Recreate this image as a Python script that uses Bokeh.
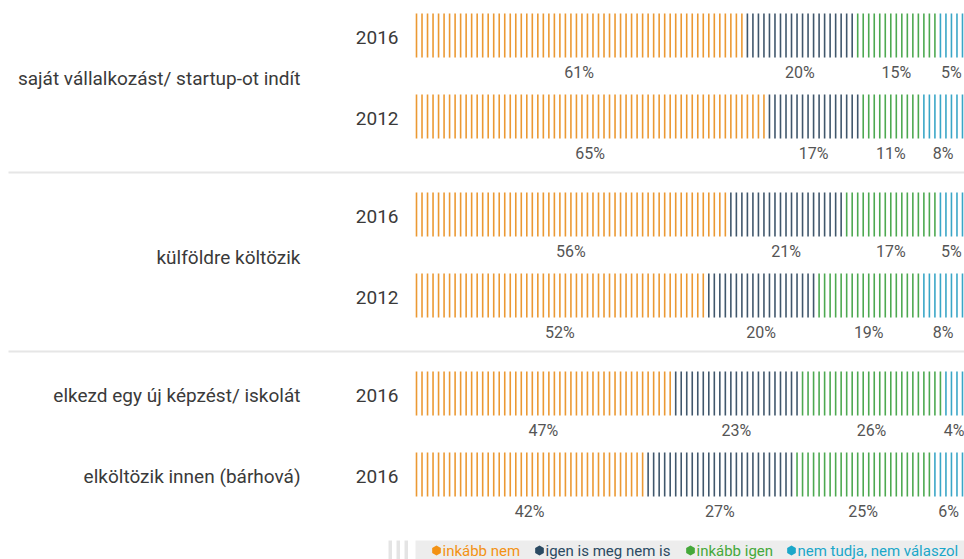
from bokeh.plotting import figure
from bokeh.models import Range1d, ColumnDataSource
from bokeh.embed import file_html
from bokeh.resources import INLINE
from bokeh.core.properties import value

# ---------------- data ----------------
categories = ["inkább nem", "igen is meg nem is", "inkább igen", "nem tudja, nem válaszol"]
row_items = ["saját vállalkozást/ startup-ot indít", "saját vállalkozást/ startup-ot indít",
             "külföldre költözik", "külföldre költözik",
             "elkezd egy új képzést/ iskolát", "elköltözik innen (bárhová)"]
row_years = ["2016", "2012", "2016", "2012", "2016", "2016"]
inkabb_nem = [61, 65, 56, 52, 47, 42]
igen_is_meg_nem_is = [20, 17, 21, 20, 23, 27]
inkabb_igen = [15, 11, 17, 19, 26, 25]
nem_tudja = [5, 8, 5, 8, 4, 6]
sections = [0, 0, 1, 1, 2, 2]

# ---------------- style ----------------
stripe_colors = ["#e8870f", "#1f3a52", "#2e9a32", "#1796bd"]
legend_colors = ["#f39214", "#2b4a62", "#45a83a", "#1ba7c9"]
FONT = "Roboto"
TEXT = "#3a3a3a"

W, H = 964, 559
X0PX, STEP = 416.0, 5.515          # px of first stripe, px per stripe


def px2x(px):
    return (px - X0PX) / STEP


p = figure(width=W, height=H, output_backend="svg", toolbar_location=None,
           x_range=Range1d(px2x(0), px2x(W)), y_range=Range1d(H, 0),
           min_border=0, outline_line_color=None)
p.axis.visible = False
p.grid.visible = False
p.background_fill_color = "white"

series = [inkabb_nem, igen_is_meg_nem_is, inkabb_igen, nem_tudja]
n_rows = len(row_years)
row_y = [35 + 81 * i + 17 * sections[i] for i in range(n_rows)]
HALF = 22

sx, sy0, sy1, sc = [], [], [], []
lx, ly, lt = [], [], []
for i in range(n_rows):
    vals = [s[i] for s in series]
    tot = sum(vals)
    raw = [v / tot * 100 for v in vals]
    cnt = [int(r) for r in raw]
    rem = sorted(range(4), key=lambda k: raw[k] - cnt[k], reverse=True)
    for k in rem[:100 - sum(cnt)]:
        cnt[k] += 1
    start = 0
    for k in range(4):
        for j in range(start, start + cnt[k]):
            sx.append(j)
            sy0.append(row_y[i] - HALF)
            sy1.append(row_y[i] + HALF)
            sc.append(stripe_colors[k])
        lx.append(start + (cnt[k] - 1) / 2)
        ly.append(row_y[i] + 37)
        lt.append(f"{vals[k]}%")
        start += cnt[k]

p.segment(x0="x", x1="x", y0="y0", y1="y1", color="c", line_width=1.6,
          line_alpha=0.85,
          source=ColumnDataSource(dict(x=sx, y0=sy0, y1=sy1, c=sc)))

p.text(x=lx, y=ly, text=lt, text_font=value(FONT), text_font_size="16px",
       text_color="#555555", text_align="center", text_baseline="middle")

# year labels
p.text(x=[px2x(398)] * n_rows, y=[y + 2 for y in row_y], text=row_years,
       text_font=value(FONT), text_font_size="19px", text_color=TEXT,
       text_align="right", text_baseline="middle")

# item labels
seen = []
for it in row_items:
    if it not in seen:
        seen.append(it)
iy = [sum(row_y[i] for i in range(n_rows) if row_items[i] == it) /
      row_items.count(it) + 2 for it in seen]
p.text(x=[px2x(300)] * len(seen), y=iy, text=seen, text_font=value(FONT),
       text_font_size="19px", text_color=TEXT, text_align="right",
       text_baseline="middle")

# separators
for i in range(1, n_rows):
    if sections[i] != sections[i - 1]:
        ys = row_y[i - 1] + 56
        p.segment(x0=[px2x(8)], x1=[px2x(964)], y0=[ys], y1=[ys],
                  line_color="#e6e6e6", line_width=2)

# legend
p.quad(left=[px2x(415)], right=[px2x(964)], top=[540], bottom=[559],
       fill_color="#ededed", line_color=None)
p.quad(left=[px2x(x) for x in (388, 396, 404)],
       right=[px2x(x) for x in (391.5, 399.5, 407.5)],
       top=[540] * 3, bottom=[559] * 3, fill_color="#e4e4e4", line_color=None)
leg_px = [436, 539, 690, 791]
p.scatter(x=[px2x(x) for x in leg_px], y=[550] * 4, marker="hex", size=10,
          angle=3.14159 / 2, fill_color=legend_colors, line_color=None)
p.text(x=[px2x(x + 6) for x in leg_px], y=[550] * 4, text=categories,
       text_font=value(FONT), text_font_size="15px", text_color=legend_colors,
       text_align="left", text_baseline="middle")

open("out.html", "w").write(file_html(p, INLINE))
